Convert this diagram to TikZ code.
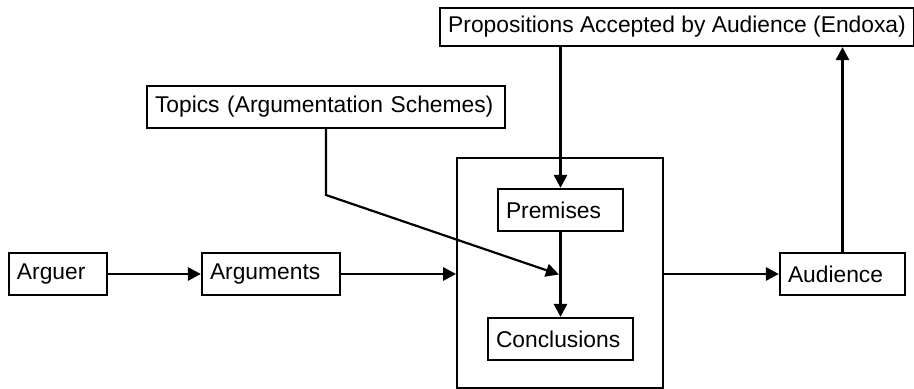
\documentclass[tikz,border=0pt]{standalone}
\usepackage{fontspec}
\setmainfont{Liberation Sans}
\usetikzlibrary{positioning,arrows.meta,calc}

\tikzset{
  box/.style={draw, line width=1.1pt, minimum height=21pt, inner xsep=4pt, inner ysep=0pt,
    align=left, font=\fontsize{11.4}{13}\selectfont},
  link/.style={line width=1.4pt, -{Triangle[length=6.5pt,width=6.5pt]}},
}

\begin{document}
\begin{tikzpicture}[x=0.5pt, y=-0.5pt]
\useasboundingbox (0,0) rectangle (914,389);

% Outer frame
\node[draw, line width=0.9pt, minimum width=103pt, minimum height=115pt] (frame) at (560,273) {};

% Boxes
\node[box, text width=41pt] (arguer) at (58,274) {Arguer};
\node[box, text width=61pt] (arguments) at (271,274) {Arguments};
\node[box, text width=54.5pt] (premises) at (560.5,210) {Premises};
\node[box, text width=64.5pt] (conclusions) at (560.5,339) {Conclusions};
\node[box, text width=54.5pt] (audience) at (842.5,274) {Audience};
\node[box, text width=171pt] (topics) at (326,107) {Topics (Argumentation Schemes)};
\node[box, minimum width=236pt, minimum height=19pt] (props) at (677,27) {Propositions Accepted by Audience (Endoxa)};

% Arrows
\draw[link] (arguer.east) -- (arguments.west);
\draw[link] (arguments.east) -- (arguments.east -| frame.west);
\draw[link] (frame.east |- audience.west) -- (audience.west);
\draw[link] (premises.north |- props.south) -- (premises.north);
\draw[link] (premises.south) -- (conclusions.north);
\draw[link] (audience.north) -- (audience.north |- props.south);

% Topics feed the inference
\coordinate (bend) at (topics.south |- 0,195);
\coordinate (meet) at ($(premises.south)!0.5!(conclusions.north)$);
\draw[link, line width=1.1pt] (topics.south) -- (bend) -- ([xshift=-0.8pt]meet);
\end{tikzpicture}
\end{document}
